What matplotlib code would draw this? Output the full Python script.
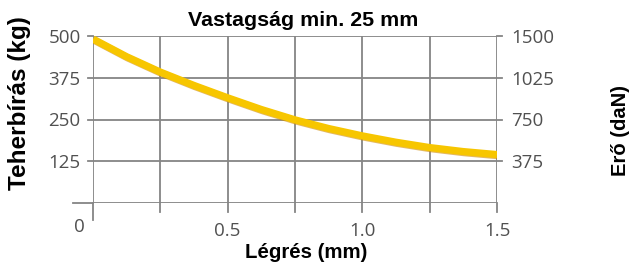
import matplotlib
matplotlib.use("Agg")
import matplotlib.pyplot as plt
from matplotlib.lines import Line2D
import matplotlib.patheffects as pe

# Data
gap_mm = [0, 0.125, 0.25, 0.375, 0.5, 0.625, 0.75, 0.875, 1.0, 1.125, 1.25, 1.375, 1.5]
load_kg = [491, 438, 392, 352, 315, 280, 249, 223, 201, 182, 166, 154, 145]
x_ticks = [0.5, 1.0, 1.5]
x_tick_labels = ["0.5", "1.0", "1.5"]
x_grid = [0.25, 0.5, 0.75, 1.0, 1.25, 1.5]
y_ticks = [125, 250, 375, 500]
y_tick_labels = ["125", "250", "375", "500"]
right_tick_labels = ["375", "750", "1025", "1500"]
origin_label = "0"

title = "Vastagság min. 25 mm"
xlabel = "Légrés (mm)"
ylabel_left = "Teherbírás (kg)"
ylabel_right = "Erő (daN)"

W, H = 643, 267
fig = plt.figure(figsize=(W / 100, H / 100), dpi=100)
fig.patch.set_facecolor("white")

x0, x1 = 93, 497
y0, y1 = 203, 36
ax = fig.add_axes([x0 / W, 1 - y0 / H, (x1 - x0) / W, (y0 - y1) / H])
ax.set_xlim(0, 1.5)
ax.set_ylim(0, 500)
for s in ax.spines.values():
    s.set_visible(False)

grid_c = "#858585"
lw = 1.3
for gy in y_ticks:
    ax.axhline(gy, color=grid_c, lw=lw, zorder=1)
for gx in x_grid:
    ax.axvline(gx, color=grid_c, lw=lw, zorder=1)
ax.axvline(0, color=grid_c, lw=lw, zorder=1)
ax.axhline(0, color=grid_c, lw=lw, zorder=1)

# extensions of the frame lines beyond the plot area
trans = ax.transAxes
pw, ph = (x1 - x0), (y0 - y1)
ax.add_line(Line2D([-20 / pw, 0], [0, 0], transform=trans, color=grid_c, lw=lw, clip_on=False))
ax.add_line(Line2D([0, 0], [0, -17 / ph], transform=trans, color=grid_c, lw=lw, clip_on=False))
for gy in y_ticks:
    fy = gy / 500
    ax.add_line(Line2D([-5 / pw, 0], [fy, fy], transform=trans, color=grid_c, lw=lw, clip_on=False))
    ax.add_line(Line2D([1, 1 + 5 / pw], [fy, fy], transform=trans, color=grid_c, lw=lw, clip_on=False))
for gx in x_grid:
    fx = gx / 1.5
    ax.add_line(Line2D([fx, fx], [0, -9 / ph], transform=trans, color=grid_c, lw=lw, clip_on=False))

ax.plot(gap_mm, load_kg, color="#F7C600", lw=5.2, solid_capstyle="butt", zorder=3,
        path_effects=[pe.SimpleLineShadow(offset=(0.6, -0.8), shadow_color="#d08a00", alpha=0.6),
                      pe.Normal()])

tick_font = dict(family="Open Sans", size=13.5, color="#505050")
ax.set_xticks(x_ticks)
ax.set_xticklabels(x_tick_labels, **tick_font)
ax.set_yticks(y_ticks)
ax.set_yticklabels(y_tick_labels, **tick_font)
ax.tick_params(axis="y", length=0, pad=9)
ax.tick_params(axis="x", length=0, pad=14)
ax.set_ylim(0, 500)

# origin label
ax.text(-14 / pw, -24 / ph, origin_label, transform=trans, ha="center", va="center", **tick_font)

ax2 = ax.twinx()
ax2.set_ylim(0, 500)
ax2.set_yticks(y_ticks)
ax2.set_yticklabels(right_tick_labels, **tick_font)
ax2.tick_params(axis="y", length=0, pad=10)
for s in ax2.spines.values():
    s.set_visible(False)

bold = dict(family="Liberation Sans", weight="bold", color="black")
fig.text(303 / W, 1 - 20 / H, title, ha="center", va="center", size=15.4, **bold)
fig.text(306 / W, 1 - 253 / H, xlabel, ha="center", va="center", size=14.7, **bold)
fig.text(20 / W, 1 - 103 / H, ylabel_left, ha="center", va="center", rotation=90, size=17.5, **bold)
fig.text(620 / W, 1 - 130 / H, ylabel_right, ha="center", va="center", rotation=90, size=14.5, **bold)

fig.savefig("out.png", dpi=100, facecolor="white")
